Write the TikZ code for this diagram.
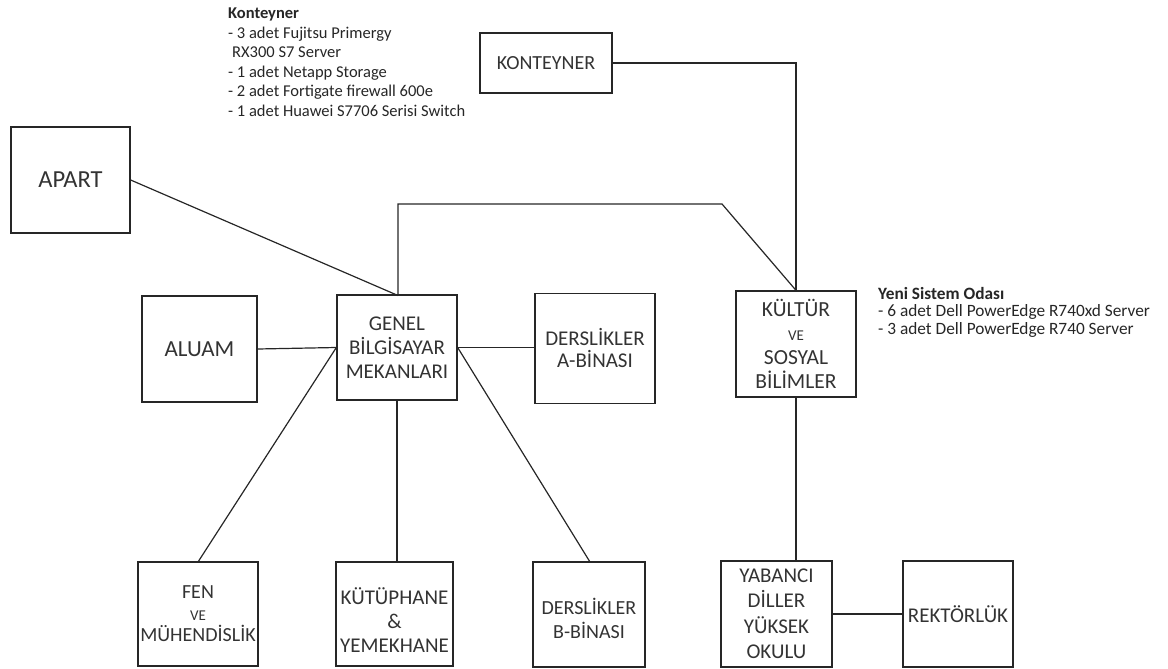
\documentclass[tikz,border=0pt]{standalone}
\usepackage{fontspec}
\setmainfont{Carlito}
\begin{document}
\begin{tikzpicture}[x=1pt,y=-1pt,
  box/.style={draw=black!85,line width=1.3pt,inner sep=0pt,align=center,text=black!80,
    font=\fontsize{21}{24}\selectfont},
  boxlbl/.style={inner sep=0pt,align=center,text=black!80,font=\fontsize{21}{24}\selectfont},
  link/.style={draw=black!85,line width=1.2pt},
  note/.style={anchor=north west,align=left,inner sep=0pt,text=black!85,
    font=\fontsize{16.5}{19.5}\selectfont}]
\useasboundingbox (0,0) rectangle (1168,669);
\newcommand{\smallve}{{\fontsize{15}{24}\selectfont VE}}
\node[box,minimum width=119pt,minimum height=106pt,font=\fontsize{24.5}{26}\selectfont] (apart) at (70.5,180) {APART};
\node[box,minimum width=132pt,minimum height=60pt,font=\fontsize{20}{24}\selectfont] (kont) at (546,63) {KONTEYNER};
\node[box,minimum width=115pt,minimum height=106pt,font=\fontsize{23}{24}\selectfont] (aluam) at (199.5,349) {ALUAM};
\node[box,minimum width=120pt,minimum height=105pt] (genel) at (397,347.5) {GENEL\\B\.{I}LG\.{I}SAYAR\\MEKANLARI};
\node[box,minimum width=120pt,minimum height=110pt,font=\fontsize{21}{22}\selectfont] (dersa) at (595,348.5) {DERSL\.{I}KLER\\A-B\.{I}NASI};
\node[box,minimum width=120pt,minimum height=106pt,font=\fontsize{21.5}{24}\selectfont] (kultur) at (796,344) {KÜLTÜR\\\smallve\\SOSYAL\\B\.{I}L\.{I}MLER};
\node[box,minimum width=120pt,minimum height=104pt,font=\fontsize{20}{21.5}\selectfont] (fen) at (198,614) {FEN\\{\fontsize{15}{21.5}\selectfont VE}\\MÜHEND\.{I}SL\.{I}K};
\node[box,minimum width=117pt,minimum height=104pt,label={[boxlbl,yshift=-6pt]center:{KÜTÜPHANE\\\&\\YEMEKHANE}}] (kut) at (394.5,614) {};
\node[box,minimum width=112pt,minimum height=105pt,label={[boxlbl,font=\fontsize{20}{24.5}\selectfont,yshift=-4pt]center:{DERSL\.{I}KLER\\B-B\.{I}NASI}}] (dersb) at (589,614.5) {};
\node[box,minimum width=111pt,minimum height=106pt,font=\fontsize{21}{25.5}\selectfont] (yab) at (776.5,614) {YABANCI\\D\.{I}LLER\\YÜKSEK\\OKULU};
\node[box,minimum width=110pt,minimum height=106pt] (rek) at (958,614) {REKTÖRLÜK};

\node[note] (kontnote) at (228,8) {\textbf{Konteyner}\\- 3 adet Fujitsu Primergy\\\hspace{4pt}RX300 S7 Server\\- 1 adet Netapp Storage\\- 2 adet Fortigate firewall 600e\\- 1 adet Huawei S7706 Serisi Switch};
\node[note,font=\fontsize{17.3}{17.5}\selectfont] (yeninote) at (878,287) {\textbf{Yeni Sistem Odası}\\- 6 adet Dell PowerEdge R740xd Server\\- 3 adet Dell PowerEdge R740 Server};

\coordinate (c1) at (398,204);
\coordinate (c2) at (722,204);
\coordinate (k1) at (796,63);
\draw[link] (apart.east) -- (398,295.5);
\draw[link] (398,295.5) -- (c1) -- (c2) -- (kultur.north);
\draw[link] (kont.east) -- (k1) -- (kultur.north);
\draw[link] (aluam.east) -- (genel.west);
\draw[link] (genel.east) -- (genel.east -| dersa.west);
\draw[link] (genel.west) -- (198,562);
\draw[link] (genel.east) -- (590,562);
\draw[link] (genel.south) -- (genel.south |- kut.north);
\draw[link] (kultur.south) -- (kultur.south |- yab.north);
\draw[link] (yab.east) -- (rek.west);
\end{tikzpicture}
\end{document}
